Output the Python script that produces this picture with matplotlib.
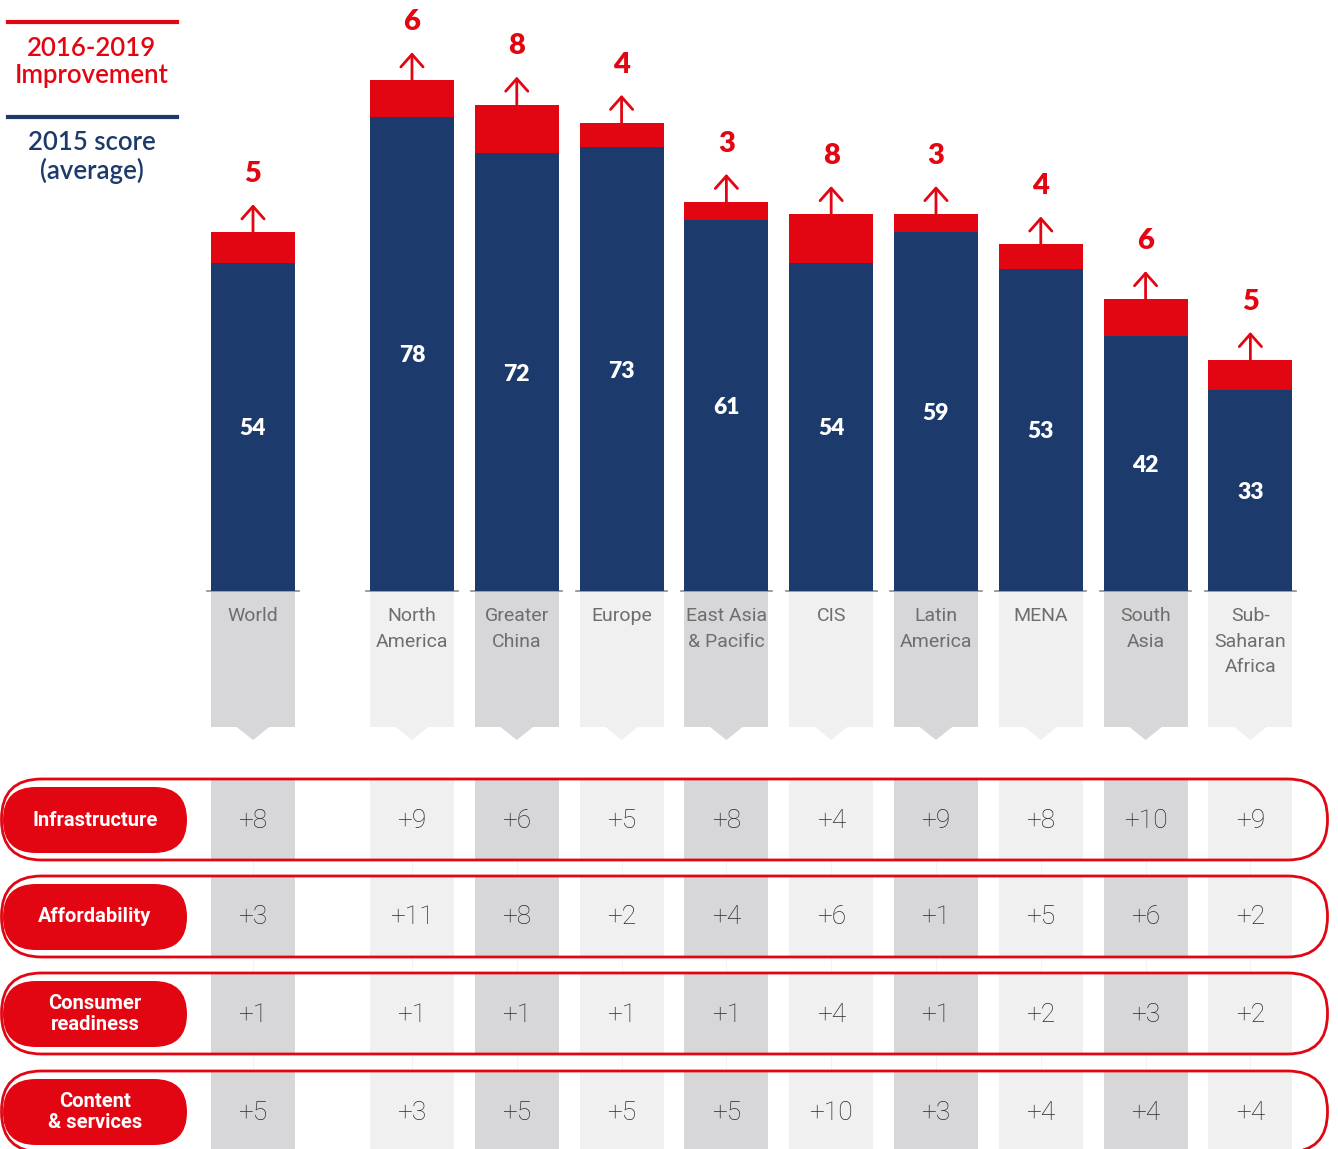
import matplotlib.pyplot as plt
from matplotlib.patches import Rectangle, Polygon, FancyBboxPatch

# data
regions = ['World', 'North\nAmerica', 'Greater\nChina', 'Europe', 'East Asia\n& Pacific',
           'CIS', 'Latin\nAmerica', 'MENA', 'South\nAsia', 'Sub-\nSaharan\nAfrica']
score_2015 = [54, 78, 72, 73, 61, 54, 59, 53, 42, 33]
improvement = [5, 6, 8, 4, 3, 8, 3, 4, 6, 5]

pillars = ['Infrastructure', 'Affordability', 'Consumer\nreadiness', 'Content\n& services']
infrastructure = [8, 9, 6, 5, 8, 4, 9, 8, 10, 9]
affordability = [3, 11, 8, 2, 4, 6, 1, 5, 6, 2]
consumer_readiness = [1, 1, 1, 1, 1, 4, 1, 2, 3, 2]
content_services = [5, 3, 5, 5, 5, 10, 3, 4, 4, 4]
pillar_values = [infrastructure, affordability, consumer_readiness, content_services]

RED = '#E20613'
NAVY = '#1C3A6B'
DARK = '#D7D6D8'
LIGHT = '#F0F0F0'
GEO = ['Lato', 'DejaVu Sans']
ROB = ['Roboto', 'DejaVu Sans']

# World sits apart, the regions follow one unit apart
xpos = [0] + [1.517 + i for i in range(9)]
XL = (-253 / 104.8, (1338 - 253) / 104.8)
W = 0.8

fig = plt.figure(figsize=(13.38, 11.49), dpi=100)

# category panels and table cells (x = category units, y = pixel rows)
ax_tab = fig.add_axes([0, 0, 1, 1])
ax_tab.set_xlim(*XL)
ax_tab.set_ylim(1149, 0)
ax_tab.axis('off')

row_tops = [779, 876, 973, 1071]
row_h = 81
for i, x in enumerate(xpos):
    shade = DARK if i % 2 == 0 else LIGHT
    ax_tab.plot([x, x], [860, 1149], color='#F4F4F4', lw=0.8, zorder=0)
    ax_tab.add_patch(Rectangle((x - W / 2, 592), W, 135, color=shade, lw=0))
    ax_tab.add_patch(Polygon([(x - 0.155, 727), (x + 0.155, 727), (x, 740)],
                             closed=True, color=shade, lw=0))
    ax_tab.plot([x - 0.435, x + 0.435], [591, 591], color='#8C8C8C', lw=1.2)
    ax_tab.text(x, 607, regions[i], ha='center', va='top', fontsize=14,
                color='#6E6E6E', family=ROB, linespacing=1.55)
    for r, vals in enumerate(pillar_values):
        ax_tab.add_patch(Rectangle((x - W / 2, row_tops[r]), W, row_h, color=shade, lw=0))
        ax_tab.text(x, row_tops[r] + row_h / 2 + 1, f'+{vals[i]}', ha='center', va='center',
                    fontsize=19, color='#2B2B2B', family=ROB, fontweight='light')

# outlines, pills and legend in pixel coordinates
ax_bg = fig.add_axes([0, 0, 1, 1], facecolor='none')
ax_bg.set_xlim(0, 1338)
ax_bg.set_ylim(1149, 0)
ax_bg.axis('off')

for r, name in enumerate(pillars):
    top = row_tops[r]
    ring = FancyBboxPatch((1.5, top), 1326, row_h,
                          boxstyle='round,pad=0,rounding_size=40')
    # flatten the rounded outline so it clips cleanly at the figure edge
    verts = ring.get_path().to_polygons()[0]
    ax_bg.add_patch(Polygon(verts, closed=True, fill=False, ec=RED, lw=2))
    ax_bg.add_patch(FancyBboxPatch((3, top + 8), 184, 66,
                                   boxstyle='round,pad=0,rounding_size=33',
                                   fc=RED, ec='none'))
    ax_bg.text(95, top + 41, name, ha='center', va='center', fontsize=14.5,
               color='white', fontweight='bold', family=ROB, linespacing=1.1)

ax_bg.plot([8, 177], [22, 22], color=RED, lw=3)
ax_bg.text(92, 62, '2016-2019\nImprovement', ha='center', va='center', fontsize=18.5,
           color=RED, family=GEO, fontweight='semibold', linespacing=1.15)
ax_bg.plot([8, 177], [117, 117], color=NAVY, lw=3)
ax_bg.text(92, 157, '2015 score\n(average)', ha='center', va='center', fontsize=18.5,
           color=NAVY, family=GEO, fontweight='semibold', linespacing=1.15)

# stacked bars
ax_bar = fig.add_axes([0, 558 / 1149, 1, 591 / 1149], facecolor='none')
ax_bar.set_xlim(*XL)
ax_bar.set_ylim(0, 591 / 6.08)
ax_bar.axis('off')

ax_bar.bar(xpos, score_2015, width=W, color=NAVY)
ax_bar.bar(xpos, improvement, bottom=score_2015, width=W, color=RED)
for x, s, d in zip(xpos, score_2015, improvement):
    top = s + d
    ax_bar.text(x, s / 2, str(s), ha='center', va='center_baseline', fontsize=16.5,
                color='white', fontweight='heavy', family=GEO)
    ax_bar.annotate('', xy=(x, top + 4.6), xytext=(x, top),
                    arrowprops=dict(arrowstyle='->,head_length=0.45,head_width=0.4',
                                    color=RED, lw=2, shrinkA=0, shrinkB=0,
                                    mutation_scale=20))
    ax_bar.annotate(str(d), xy=(x, top), xytext=(0, 42), textcoords='offset points',
                    ha='center', va='center', fontsize=21, color=RED,
                    fontweight='heavy', family=GEO)

fig.savefig('out.png', dpi=100)
